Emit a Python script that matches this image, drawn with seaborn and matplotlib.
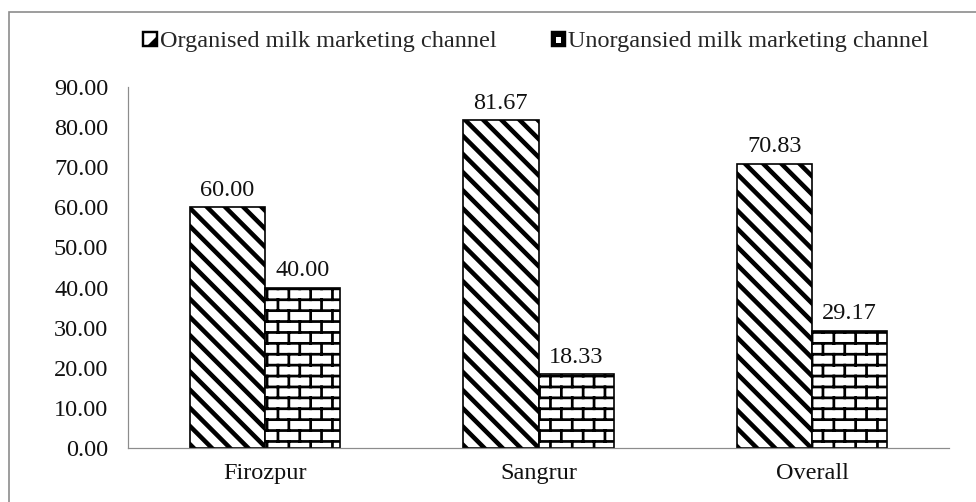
import warnings
warnings.filterwarnings("ignore")
import numpy as np
import pandas as pd
import matplotlib
matplotlib.use("Agg")
import matplotlib.pyplot as plt
import matplotlib.hatch as mhatch
import matplotlib.patches as mpatches
from matplotlib.legend_handler import HandlerBase
from matplotlib.path import Path
import seaborn as sns

# ---- data ----
regions = ["Firozpur", "Sangrur", "Overall"]
channels = ["Organised milk marketing channel", "Unorgansied milk marketing channel"]
organised = [60.00, 81.67, 70.83]
unorganised = [40.00, 18.33, 29.17]
yticks = [0, 10, 20, 30, 40, 50, 60, 70, 80, 90]

DPI = 109  # hatch tile = DPI pixels


# ---- custom brick hatch ('b') ----
class BrickHatch(mhatch.HatchPatternBase):
    rows = 10
    cols = 5

    def __init__(self, hatch, density):
        self.segs = []
        if hatch.count('b') > 0:
            dy = 1.0 / self.rows
            dx = 1.0 / self.cols
            for k in range(self.rows):
                y = (k + 0.5) * dy
                self.segs.append(((0.0, y), (1.0, y)))
            for k in range(self.rows):
                y0 = (k + 0.5) * dy
                y1 = y0 + dy
                off = (k % 2) * dx / 2 + dx / 4
                for j in range(self.cols):
                    x = j * dx + off
                    if y1 <= 1.0:
                        self.segs.append(((x, y0), (x, y1)))
                    else:
                        self.segs.append(((x, y0), (x, 1.0)))
                        self.segs.append(((x, 0.0), (x, y1 - 1.0)))
        self.num_vertices = len(self.segs) * 2

    def set_vertices_and_codes(self, vertices, codes):
        for i, (a, b) in enumerate(self.segs):
            vertices[2 * i] = a
            vertices[2 * i + 1] = b
            codes[2 * i] = Path.MOVETO
            codes[2 * i + 1] = Path.LINETO


mhatch._hatch_types.append(BrickHatch)


# ---- legend icons resembling the shrunken fill patterns ----
class IconHandler(HandlerBase):
    def __init__(self, kind):
        super().__init__()
        self.kind = kind

    def create_artists(self, legend, orig_handle, xdescent, ydescent,
                       width, height, fontsize, trans):
        s = min(width, height)
        x0 = -xdescent + (width - s) / 2
        y0 = -ydescent + (height - s) / 2
        if self.kind == 0:
            box = mpatches.Rectangle((x0, y0), s, s, facecolor="white",
                                     edgecolor="black", linewidth=1.6, transform=trans)
            tri = mpatches.Polygon([(x0 + 0.25 * s, y0), (x0 + s, y0), (x0 + s, y0 + 0.75 * s)],
                                   closed=True, facecolor="black", edgecolor="none",
                                   transform=trans)
            return [box, tri]
        box = mpatches.Rectangle((x0, y0), s, s, facecolor="black",
                                 edgecolor="black", linewidth=1.6, transform=trans)
        inner = mpatches.Rectangle((x0 + 0.3 * s, y0 + 0.18 * s), 0.4 * s, 0.45 * s,
                                   facecolor="white", edgecolor="none", transform=trans)
        return [box, inner]


sns.set_theme(style="white")
plt.rcParams["font.family"] = ["Liberation Serif", "DejaVu Serif"]
plt.rcParams["hatch.color"] = "black"
plt.rcParams["hatch.linewidth"] = 3.0

FS = 16.0

df = pd.DataFrame({
    "region": regions * 2,
    "channel": [channels[0]] * 3 + [channels[1]] * 3,
    "value": organised + unorganised,
})

fig = plt.figure(figsize=(976 / DPI, 502 / DPI), dpi=DPI)
ax = fig.add_axes([128 / 976, 1 - 448 / 502, (949 - 128) / 976, (448 - 87) / 502])

sns.barplot(data=df, x="region", y="value", hue="channel", hue_order=channels,
            palette=["white", "white"], edgecolor="black", linewidth=1.1,
            width=0.55, saturation=1, legend=False, ax=ax, errorbar=None)

hatches = ["\\\\", "b"]
hlw = [3.0, 1.8]
for cont, h, lw in zip(ax.containers, hatches, hlw):
    for bar in cont:
        bar.set_hatch(h)
        if hasattr(bar, "set_hatch_linewidth"):
            bar.set_hatch_linewidth(lw)
    ax.bar_label(cont, fmt="%.2f", padding=4.5, fontsize=FS, color="#111111")

ax.set_ylim(0, 90)
ax.set_xlim(-0.5, 2.5)
ax.set_yticks(yticks)
ax.set_yticklabels([f"{v:.2f}" for v in yticks])
ax.tick_params(axis="both", length=0, labelsize=FS, colors="#111111")
ax.tick_params(axis="y", pad=13)
ax.tick_params(axis="x", pad=10)
ax.set_xlabel("")
ax.set_ylabel("")
for s in ["top", "right"]:
    ax.spines[s].set_visible(False)
for s in ["left", "bottom"]:
    ax.spines[s].set_color("#8c8c8c")
    ax.spines[s].set_linewidth(0.8)

handles = [mpatches.Patch(), mpatches.Patch()]
fig.legend(handles, channels, loc="center", bbox_to_anchor=(536 / 976, 1 - 42 / 502),
           ncol=2, frameon=False, fontsize=FS, handlelength=0.55, handleheight=0.55,
           handletextpad=0.12, columnspacing=2.3,
           handler_map={handles[0]: IconHandler(0), handles[1]: IconHandler(1)})

border = mpatches.Rectangle((9 / 976, -0.05), 1.1, 1 - 12 / 502 + 0.05,
                            transform=fig.transFigure, fill=False,
                            edgecolor="#8c8c8c", linewidth=1.1)
fig.patches.append(border)

fig.savefig("out.png", dpi=DPI)
